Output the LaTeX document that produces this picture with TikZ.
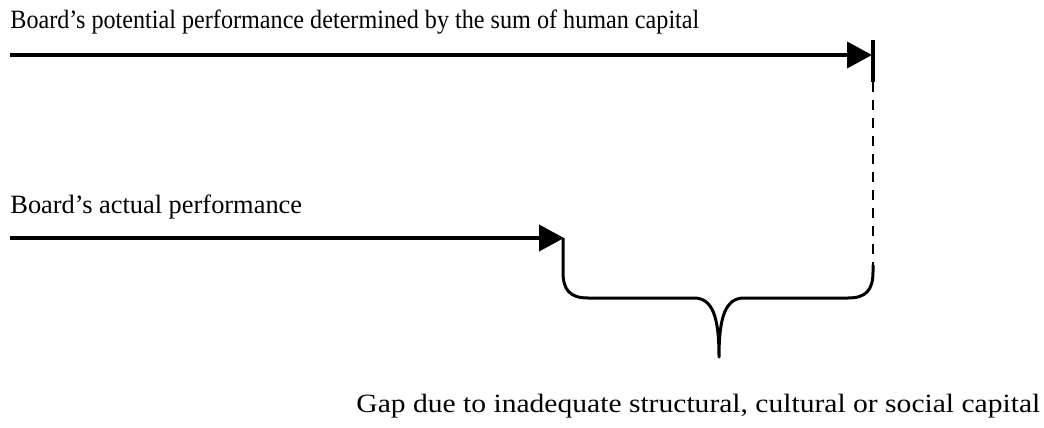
\documentclass[tikz,border=0pt]{standalone}
\usepackage{fontspec}
\setmainfont{Liberation Serif}
\usetikzlibrary{arrows.meta}

\begin{document}
\begin{tikzpicture}[x=0.5pt, y=-0.5pt,
    label text/.style={anchor=base west, inner sep=0pt, font=\fontsize{13.2}{15}\selectfont},
    perf arrow/.style={line width=2pt, -{Triangle[length=12.5pt, width=13pt]}}]
    % Fix the page size
    \useasboundingbox (0,0) rectangle (1044,428);

    % Labels
    \node[label text] (potential) at (10,28) {\scalebox{0.915}[1]{Board's potential performance determined by the sum of human capital}};
    \node[label text] (actual) at (10,213) {Board's actual performance};
    \node[label text] (gap) at (356,412) {\scalebox{1.12}[1]{Gap due to inadequate structural, cultural or social capital}};

    % Potential performance
    \coordinate (potStart) at (10,55);
    \coordinate (potEnd) at (872,55);
    \coordinate (tickTop) at (873,40);
    \coordinate (tickBot) at (873,82);
    \draw[perf arrow] (potStart) -- (potEnd);
    \draw[line width=2pt] (tickTop) -- (tickBot);

    % Actual performance
    \coordinate (actStart) at (10,238);
    \coordinate (actEnd) at (564,238);
    \draw[perf arrow] (actStart) -- (actEnd);

    % Dashed drop to the brace
    \coordinate (braceR) at (873,265);
    \draw[line width=1pt, dash pattern=on 5pt off 4pt] (tickBot) -- (braceR);

    % Brace for the gap
    \coordinate (braceL) at (563,238);
    \coordinate (braceTip) at (719,357);
    \draw[line width=1.5pt, line join=round]
        (braceL) -- (563,272) .. controls (563,290) and (570,298) .. (588,298)
        -- (694,298) .. controls (713,298) and (719,318) .. (braceTip)
        .. controls (719,318) and (725,298) .. (744,298)
        -- (848,298) .. controls (866,298) and (873,290) .. (873,272)
        -- (braceR);
\end{tikzpicture}
\end{document}
